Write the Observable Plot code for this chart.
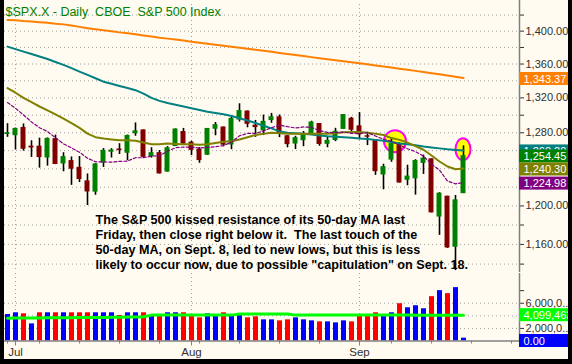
<!DOCTYPE html>
<html lang="en">
<head>
<meta charset="utf-8">
<script src="https://cdn.jsdelivr.net/npm/d3@7"></script>
<script src="https://cdn.jsdelivr.net/npm/@observablehq/plot@0.6"></script>
<style>
  html, body { margin: 0; padding: 0; background: #000; }
  #chart { position: relative; width: 572px; height: 364px; background: #000; overflow: hidden; }
  #chart svg { position: absolute; left: 4px; overflow: hidden; }
</style>
</head>
<body>
<div id="chart"></div>
<script>
// ---------------- data ----------------
const title = "$SPX.X - Daily  CBOE  S&P 500 Index";
const dates = ["2008-06-30","2008-07-01","2008-07-02","2008-07-03","2008-07-07","2008-07-08","2008-07-09","2008-07-10","2008-07-11","2008-07-14","2008-07-15","2008-07-16","2008-07-17","2008-07-18","2008-07-21","2008-07-22","2008-07-23","2008-07-24","2008-07-25","2008-07-28","2008-07-29","2008-07-30","2008-07-31","2008-08-01","2008-08-04","2008-08-05","2008-08-06","2008-08-07","2008-08-08","2008-08-11","2008-08-12","2008-08-13","2008-08-14","2008-08-15","2008-08-18","2008-08-19","2008-08-20","2008-08-21","2008-08-22","2008-08-25","2008-08-26","2008-08-27","2008-08-28","2008-08-29","2008-09-02","2008-09-03","2008-09-04","2008-09-05","2008-09-08","2008-09-09","2008-09-10","2008-09-11","2008-09-12","2008-09-15","2008-09-16","2008-09-17","2008-09-18","2008-09-19"];
const open  = [1278.06,1276.69,1286.0,1265.0,1265.0,1251.84,1273.38,1245.25,1249.0,1241.61,1226.83,1214.65,1246.31,1258.22,1261.82,1257.08,1278.87,1283.22,1253.51,1257.76,1236.38,1264.52,1281.37,1269.42,1261.5,1254.87,1283.99,1286.51,1266.29,1294.42,1304.79,1288.64,1282.11,1293.85,1298.14,1276.65,1267.34,1271.07,1277.59,1290.47,1267.03,1271.29,1283.79,1296.49,1287.83,1276.61,1271.80,1233.21,1249.50,1267.98,1227.50,1229.04,1245.88,1250.92,1188.31,1210.34,1157.08,1213.11];
const high  = [1290.31,1285.31,1290.0,1271.0,1273.95,1274.17,1277.36,1257.65,1253.0,1253.5,1234.35,1245.52,1262.31,1262.23,1267.74,1277.42,1291.17,1283.22,1263.23,1260.09,1264.44,1284.33,1284.93,1270.52,1263.5,1284.88,1291.67,1286.51,1297.85,1313.15,1304.79,1294.03,1300.11,1302.05,1300.22,1276.65,1276.01,1281.40,1293.09,1290.47,1275.65,1285.05,1300.68,1297.59,1303.04,1280.60,1271.80,1244.94,1274.42,1268.66,1243.90,1249.98,1255.09,1250.92,1214.12,1210.34,1211.14,1265.34];
const low   = [1274.86,1260.68,1259.5,1252.5,1240.68,1242.84,1244.57,1236.76,1222.0,1225.01,1200.44,1211.39,1241.49,1251.81,1255.70,1248.83,1276.06,1251.48,1251.75,1234.37,1236.38,1264.52,1265.97,1254.54,1246.0,1254.67,1276.61,1264.29,1261.11,1292.17,1285.64,1274.86,1276.84,1290.74,1274.51,1263.11,1261.16,1264.36,1277.59,1264.87,1263.21,1270.03,1283.79,1280.0,1272.20,1265.59,1232.83,1217.23,1247.12,1224.51,1221.60,1211.54,1233.81,1192.70,1169.28,1155.88,1133.50,1213.11];
const close = [1280.00,1284.91,1261.52,1262.90,1252.31,1273.70,1244.69,1253.39,1239.49,1228.30,1214.91,1245.36,1260.32,1260.68,1260.00,1277.00,1282.19,1252.54,1257.76,1234.37,1263.20,1284.26,1267.38,1260.31,1249.01,1284.88,1289.19,1266.07,1296.32,1305.32,1289.59,1285.83,1292.93,1298.20,1278.60,1266.69,1274.54,1277.72,1292.20,1266.84,1271.51,1281.66,1300.68,1282.83,1277.58,1274.98,1236.83,1242.31,1267.79,1224.51,1232.04,1249.05,1251.70,1192.70,1213.60,1156.39,1206.51,1254.45];
const prevClose = 1278.38;
const volume = [4.21,4.48,4.32,2.72,4.48,4.48,4.48,4.48,4.48,4.48,4.48,4.48,4.48,4.48,4.05,4.48,4.48,4.48,4.0,3.89,4.48,4.48,4.48,3.89,3.68,4.32,4.16,4.48,4.05,4.05,3.68,3.84,3.36,3.36,3.2,3.36,3.68,3.36,3.2,3.04,3.04,2.88,3.2,3.04,4.0,4.0,4.48,4.16,4.48,5.92,5.28,5.6,5.12,7.04,8.0,7.52,8.48,0.45].map(v => v * 1e6);
const volumeShown = 0;           // value printed in the volume box
const ma200 = [1413.8,1413.5,1412.6,1412.0,1411.1,1410.3,1409.2,1408.4,1406.9,1405.3,1403.6,1402.3,1401.0,1399.8,1398.5,1397.4,1396.1,1394.7,1393.5,1392.0,1390.8,1389.6,1388.4,1387.1,1385.8,1384.6,1383.4,1382.1,1380.9,1379.7,1378.4,1377.1,1375.9,1374.7,1373.4,1372.1,1370.8,1369.6,1368.3,1367.0,1365.8,1364.6,1363.4,1362.1,1360.9,1359.6,1358.3,1357.0,1355.8,1354.4,1353.1,1351.8,1350.5,1349.1,1347.8,1346.4,1344.9,1343.37];
const ma50  = [1381,1378,1375,1372,1369,1366,1362.5,1359,1355,1351,1347,1343,1339,1336.5,1334,1331.5,1329,1325,1320,1316.5,1314,1312,1310,1308,1306,1304,1302.5,1301,1299,1296.5,1294,1291,1288,1285,1281.5,1280,1279.5,1279,1278,1277,1276,1275.5,1275,1274.5,1273.5,1273,1272,1271,1269.5,1268,1267,1266,1264.5,1263.5,1262.5,1261.5,1260.8,1260.2];
const ma20  = [1331.5,1326,1320,1315,1310,1305.5,1301,1296,1291,1285.5,1279,1275,1273.5,1272.5,1271.5,1271.5,1271,1269,1267,1267,1268,1267.5,1267,1267,1266.5,1267,1268.5,1270,1270.5,1272.5,1275,1277.5,1279,1280,1279.5,1279,1279,1279,1279,1279,1279,1279.5,1280.5,1281,1281,1280,1279,1277.5,1274,1272,1269,1265,1261,1254.6,1248,1242.5,1239.5,1240.30];
const ma10  = [1314.53,1307.93,1300.30,1292.31,1285.74,1281.31,1274.35,1267.50,1263.13,1258.12,1251.61,1247.66,1247.54,1247.32,1248.08,1248.41,1252.16,1252.08,1253.91,1254.51,1259.34,1263.23,1263.94,1263.90,1262.80,1263.59,1264.29,1265.64,1269.50,1276.59,1279.23,1279.39,1281.95,1285.73,1288.69,1286.87,1285.41,1286.57,1286.16,1282.31,1280.51,1280.09,1280.86,1279.33,1279.23,1280.05,1276.28,1272.74,1270.30,1266.07,1262.12,1258.86,1253.96,1244.95,1238.55,1226.69,1223.66,1224.98];
const volMA = [3.63,3.64,3.65,3.66,3.67,3.68,3.69,3.70,3.71,3.72,3.73,3.74,3.75,3.76,3.78,3.80,3.82,3.84,4.11,4.11,4.11,4.11,4.11,4.11,4.11,4.11,4.11,4.11,4.11,4.27,4.27,4.27,4.27,4.27,4.27,4.27,4.11,4.11,4.11,4.11,4.11,4.11,4.11,4.11,4.11,4.11,4.11,4.11,4.11,4.11,4.11,4.10,4.10,4.10,4.10,4.10,4.10,4.099463].map(v => v * 1e6);
const priceTicks = [1140,1160,1180,1200,1220,1240,1260,1280,1300,1320,1340,1360,1380,1400,1420];
const volumeTicks = [2e6, 4e6, 6e6, 8e6];
const monthLabels = ["Jul", "Aug", "Sep"];
const monthStarts = [1, 23, 44];
const weekStarts = [0, 4, 9, 14, 19, 24, 29, 34, 39, 44, 48, 53, 58, 63];
const touches = [{i: 48.5, price: 1270}, {i: 57, price: 1261}];
const note = ["The S&P 500 kissed resistance of its 50-day MA last",
              "Friday, then close right below it.  The last touch of the",
              "50-day MA, on Sept. 8, led to new lows, but this is less",
              "likely to occur now, due to possible \"capitulation\" on Sept. 18."];

// ---------------- layout / styles ----------------
const W = 564, FONT = "'Liberation Sans', Arial, Helvetica, sans-serif";
const xDomain = [-0.375, 64];
const boxW = 49 / 8;               // label box width in x units (8px per day)
const priceDomain = [1131.6, 1433.3], priceRange = [272, 4];
const volDomain = [0, 10.72e6], volRange = [68.5, 1];
const C = {bg: "#FFFBF0", up: "#008000", down: "#800000", ma200: "#FF8000", ma50: "#008080",
           ma20: "#808000", ma10: "#800080", vUp: "#0000FF", vDown: "#FF0000", vMA: "#00FF00",
           grid: "#A0A0A0", axis: "#808080"};
const fmt2 = d3.format(",.2f");

const n = dates.length;
const bars = d3.range(n).map(i => ({
  i, open: open[i], high: high[i], low: low[i], close: close[i], volume: volume[i],
  color: close[i] > open[i] ? C.up : C.down,
  vcolor: close[i] >= (i ? close[i - 1] : prevClose) ? C.vUp : C.vDown
}));
const line = (arr) => arr.map((v, i) => ({i, v}));

// right-hand value labels (stacked so they do not overlap)
const ys = d3.scaleLog(priceDomain, priceRange);
const stack = [
  {value: ma10[n - 1], fill: C.ma10},
  {value: ma20[n - 1], fill: C.ma20},
  {value: close[n - 1], fill: C.up}
];
let prevY = Infinity;
for (const d of stack) {
  let y = ys(d.value) + 1;
  if (y > prevY - 13) y = prevY - 13;
  d.at = ys.invert(y); prevY = y;
}
const under = [{value: ma200[n - 1], fill: C.ma200}, {value: ma50[n - 1], fill: C.ma50}]
  .map(d => ({...d, at: ys.invert(ys(d.value) + 1)}));
const priceLabels = [...under, ...stack.slice().reverse()];

// one box + text pair per label, drawn in order so later boxes cover earlier ones
function valueBox(d, xMax, fontSize) {
  return [
    Plot.rect([d], {x1: () => xMax, x2: () => xMax + boxW, y1: "at", y2: "at",
      insetTop: -6.5, insetBottom: -6.5, fill: "fill"}),
    Plot.text([d], {x: () => xMax, y: "at", text: "text", dx: 4,
      textAnchor: "start", fill: "white", fontSize})
  ];
}

const baseStyle = {background: C.bg, fontFamily: FONT, fontSize: "11px", color: "#303030", overflow: "hidden"};

const price = Plot.plot({
  width: W, height: 273,
  marginLeft: 0, marginRight: 49, marginTop: 4, marginBottom: 1,
  style: baseStyle,
  color: {type: "identity"},
  x: {domain: xDomain, axis: null},
  y: {type: "log", domain: priceDomain, range: priceRange, axis: "right", label: null,
      ticks: priceTicks, tickSize: 4, tickPadding: 2,
      tickFormat: d => d % 40 === 0 ? fmt2(d) : ""},
  marks: [
    Plot.ruleY(priceTicks, {stroke: C.grid, strokeDasharray: "1,3"}),
    Plot.ruleX(monthStarts, {stroke: C.grid, strokeDasharray: "1,3"}),
    Plot.text([title], {frameAnchor: "top-left", dx: 1, dy: 3, textAnchor: "start", lineAnchor: "top",
      fill: "#008000", fontSize: 12.5}),
    Plot.rect(touches.slice(0, 1), {x1: "i", x2: "i", y1: "price", y2: "price",
      insetLeft: -11, insetRight: -11, insetTop: -11, insetBottom: -11, rx: 11, ry: 11,
      fill: "#FFFF00", stroke: "#FF00FF", strokeWidth: 2}),
    Plot.rect(touches.slice(1), {x1: "i", x2: "i", y1: "price", y2: "price",
      insetLeft: -7.5, insetRight: -7.5, insetTop: -11, insetBottom: -11, rx: 7.5, ry: 11,
      fill: "#FFFF00", stroke: "#FF00FF", strokeWidth: 2}),
    Plot.ruleX(bars, {x: "i", y1: "low", y2: "high", stroke: "#000", strokeWidth: 1.6}),
    Plot.rect(bars, {x1: d => d.i - 0.31, x2: d => d.i + 0.31, y1: "open", y2: "close", fill: "color"}),
    Plot.line(line(ma200), {x: "i", y: "v", stroke: C.ma200, strokeWidth: 2}),
    Plot.line(line(ma50), {x: "i", y: "v", stroke: C.ma50, strokeWidth: 2}),
    Plot.line(line(ma20), {x: "i", y: "v", stroke: C.ma20, strokeWidth: 2}),
    Plot.line(line(ma10), {x: "i", y: "v", stroke: C.ma10, strokeWidth: 1.2, strokeDasharray: "3,2"}),
    Plot.text([note.join("\n")], {x: () => 11, y: () => 1190, dy: -2, textAnchor: "start", lineAnchor: "top",
      lineHeight: 1.18, fontSize: 12.6, fontWeight: "bold", fill: "#000"}),
    Plot.ruleX([xDomain[1]], {stroke: C.axis, strokeWidth: 1.5, insetTop: -4}),
    Plot.ruleY([priceDomain[0]], {stroke: C.axis, strokeWidth: 1}),
    ...priceLabels.flatMap(d => valueBox({...d, text: fmt2(d.value)}, xDomain[1], 11))
  ]
});

const volLabels = [
  {at: volMA[n - 1], fill: C.vMA, text: d3.format(",.0f")(volMA[n - 1])},
  {at: volumeShown, fill: C.vUp, text: fmt2(volumeShown)}
];

const vol = Plot.plot({
  width: W, height: 87,
  marginLeft: 0, marginRight: 49, marginTop: 1, marginBottom: 18,
  style: baseStyle,
  color: {type: "identity"},
  x: {domain: xDomain, axis: null},
  y: {domain: volDomain, range: volRange, axis: "right", label: null,
      ticks: volumeTicks, tickSize: 4, tickPadding: 2,
      tickFormat: d => (d / 1e6) % 4 === 2 ? d3.format(",")(d).slice(0, 7) + "..." : ""},
  marks: [
    Plot.ruleY([2e6, 4e6, 6e6], {stroke: C.grid, strokeDasharray: "1,3"}),
    Plot.ruleX(monthStarts, {stroke: C.grid, strokeDasharray: "1,3"}),
    Plot.ruleX(bars, {x: "i", y1: 0, y2: "volume", stroke: "vcolor", strokeWidth: 5}),
    Plot.line(line(volMA), {x: "i", y: "v", stroke: C.vMA, strokeWidth: 3}),
    Plot.ruleY([0], {stroke: C.axis, strokeWidth: 1.5}),
    Plot.ruleX([xDomain[1]], {stroke: C.axis, strokeWidth: 1.5}),
    Plot.ruleX(weekStarts, {x: d => d, y1: 0, y2: 0, insetBottom: -3, stroke: C.axis}),
    Plot.ruleX(monthStarts, {x: d => d, y1: 0, y2: 0, insetBottom: -5, stroke: C.axis}),
    Plot.text(monthStarts, {x: d => d, y: 0, text: (d, k) => monthLabels[k], dy: 11.5, fill: "#303030", fontSize: 11.5}),
    ...volLabels.flatMap(d => valueBox(d, xDomain[1], 11))
  ]
});

price.style.top = "0px";
vol.style.top = "272px";
const root = document.getElementById("chart");
root.append(price, vol);
</script>
</body>
</html>
